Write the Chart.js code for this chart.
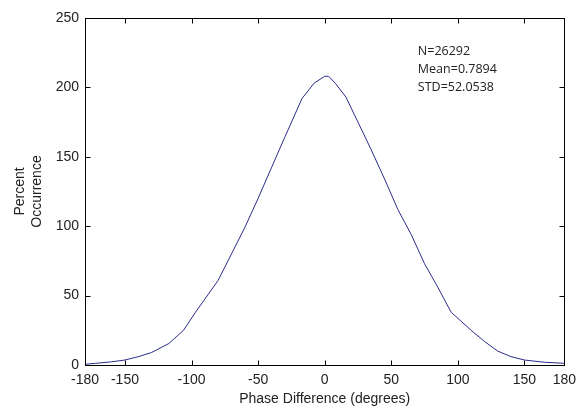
<!DOCTYPE html>
<html>
<head>
<meta charset="utf-8">
<script src="https://cdn.jsdelivr.net/npm/chart.js@4"></script>
<style>
  html, body { margin: 0; padding: 0; background: #fff; }
  #wrap { width: 583px; height: 408px; }
</style>
</head>
<body>
<div id="wrap"><canvas id="myChart"></canvas></div>
<script>
var phase   = [-180, -172, -160, -150, -140, -130, -117, -106, -97, -80, -70, -60, -50, -40, -30, -17, -8, 0, 3, 8, 16, 25, 35, 45, 55, 65, 75, 85, 95, 110, 120, 130, 140, 150, 165, 180];
var percent = [0.5, 1.2, 2.3, 3.6, 6, 9, 15.5, 25, 38, 61, 80, 99, 120, 142, 164, 192, 203, 208, 208, 203, 193, 175, 155, 134, 112, 94, 73, 56, 38, 25, 17, 10, 6, 3.6, 2, 1.2];
var xTicks = [-180, -150, -100, -50, 0, 50, 100, 150, 180];
var yTicks = [0, 50, 100, 150, 200, 250];
var statsLines = ['N=26292', 'Mean=0.7894', 'STD=52.0538'];

// matlab style box with inward ticks + stats text
var boxPlugin = {
  id: 'box',
  afterDraw: function(chart) {
    var ctx = chart.ctx, a = chart.chartArea;
    var xs = chart.scales.x, ys = chart.scales.y;
    ctx.save();
    ctx.strokeStyle = '#000';
    ctx.lineWidth = 1;
    var l = Math.round(a.left) + 0.5, r = Math.round(a.right) + 0.5;
    var t = Math.round(a.top) + 0.5, b = Math.round(a.bottom) + 0.5;
    ctx.strokeRect(l, t, r - l, b - t);
    ctx.beginPath();
    xTicks.forEach(function(v) {
      var px = Math.round(xs.getPixelForValue(v)) + 0.5;
      ctx.moveTo(px, b); ctx.lineTo(px, b - 5);
      ctx.moveTo(px, t); ctx.lineTo(px, t + 5);
    });
    yTicks.forEach(function(v) {
      var py = Math.round(ys.getPixelForValue(v)) + 0.5;
      ctx.moveTo(l, py); ctx.lineTo(l + 5, py);
      ctx.moveTo(r, py); ctx.lineTo(r - 5, py);
    });
    ctx.stroke();

    ctx.fillStyle = '#222';
    ctx.font = '12.5px "Open Sans"';
    ctx.textBaseline = 'middle';
    ctx.textAlign = 'left';
    statsLines.forEach(function(s, i) {
      ctx.fillText(s, xs.getPixelForValue(70), ys.getPixelForValue(226) + i * 18.3);
    });
    ctx.restore();
  }
};

var ctx = document.getElementById('myChart').getContext('2d');
var myChart = new Chart(ctx, {
  type: 'scatter',
  data: {
    datasets: [{
      data: phase.map(function(p, i) { return {x: p, y: percent[i]}; }),
      showLine: true,
      borderColor: '#2b2b8c',
      borderWidth: 1,
      pointRadius: 0,
      tension: 0
    }]
  },
  options: {
    responsive: true,
    maintainAspectRatio: false,
    animation: false,
    layout: { padding: { top: 18, right: 18, left: 0, bottom: 0 } },
    scales: {
      x: {
        type: 'linear',
        min: -180,
        max: 180,
        afterBuildTicks: function(s) { s.ticks = xTicks.map(function(v) { return {value: v}; }); },
        afterFit: function(s) { s.height = 43; },
        grid: { display: false, drawTicks: false },
        border: { display: false },
        ticks: { padding: 7, color: '#222', font: { family: 'Liberation Sans', size: 14 }, maxRotation: 0 },
        title: { display: true, text: 'Phase Difference (degrees)', color: '#222', font: { family: 'Liberation Sans', size: 14 }, padding: { top: 3, bottom: 0 } }
      },
      y: {
        min: 0,
        max: 250,
        afterBuildTicks: function(s) { s.ticks = yTicks.map(function(v) { return {value: v}; }); },
        afterFit: function(s) { s.width = 85; },
        grid: { display: false, drawTicks: false },
        border: { display: false },
        ticks: { padding: 6, color: '#222', font: { family: 'Liberation Sans', size: 14 } },
        title: { display: true, text: ['Percent', 'Occurrence'], color: '#222', font: { family: 'Liberation Sans', size: 14, lineHeight: 1.2 }, padding: { top: 12, bottom: 0 } }
      }
    },
    plugins: {
      legend: { display: false },
      tooltip: { enabled: false }
    }
  },
  plugins: [boxPlugin]
});
</script>
</body>
</html>
